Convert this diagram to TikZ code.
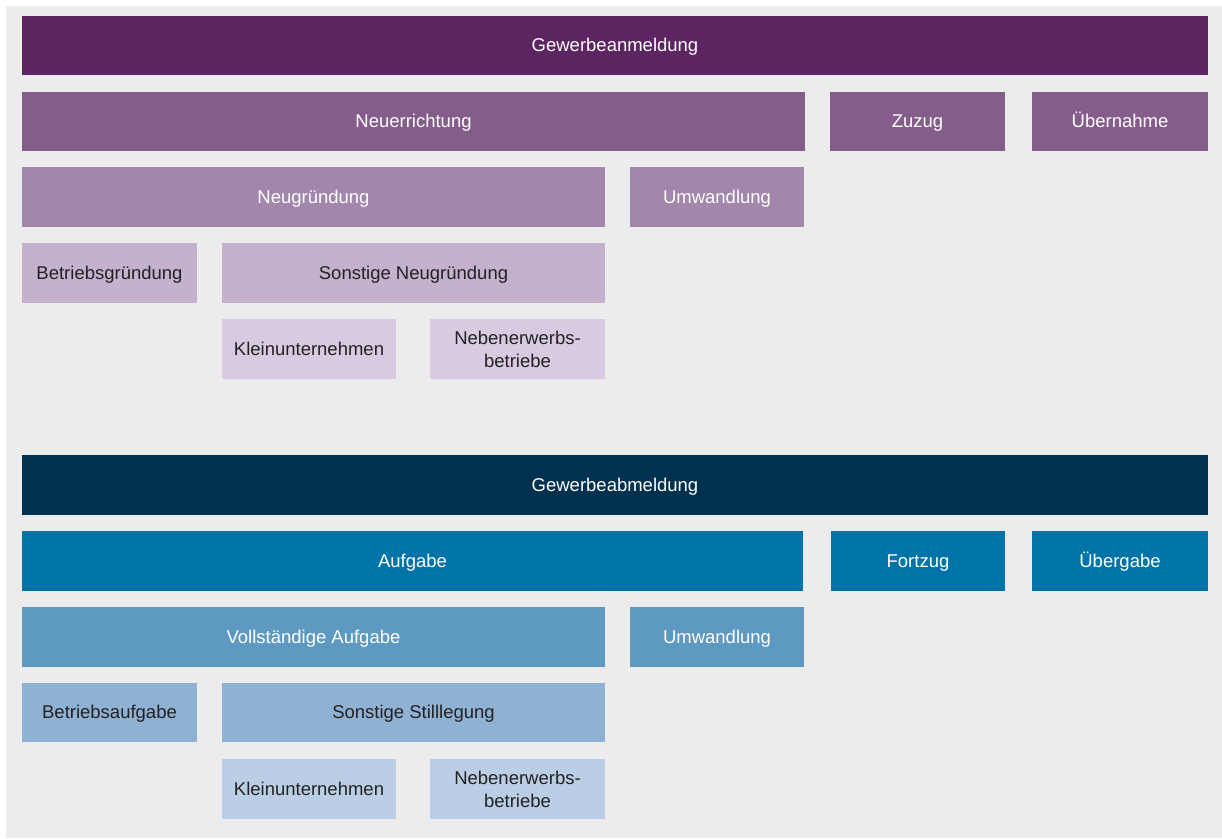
\documentclass[tikz,border=0pt]{standalone}
\usepackage{fontspec}
\setmainfont{Liberation Sans}
\definecolor{bg}{HTML}{ECECEC}
\definecolor{pA}{HTML}{5C2561}
\definecolor{pB}{HTML}{845D8A}
\definecolor{pC}{HTML}{A386AC}
\definecolor{pD}{HTML}{C4B1CE}
\definecolor{pE}{HTML}{D8CAE0}
\definecolor{bA}{HTML}{003250}
\definecolor{bB}{HTML}{0073A8}
\definecolor{bC}{HTML}{5E99C2}
\definecolor{bD}{HTML}{8FB1D3}
\definecolor{bE}{HTML}{BACEE5}
\definecolor{txtdark}{HTML}{222222}
\tikzset{
  box/.style={draw=none, inner sep=0pt, outer sep=0pt, align=center,
    font=\fontsize{18.5}{23}\selectfont},
  oneline/.style={text height=12.6pt, text depth=0pt},
  light/.style={box, oneline, text=white},
  dark/.style={box, oneline, text=txtdark},
  darktwo/.style={box, text=txtdark},
}
\newcommand{\bx}[8]{% style, name, fill, cx, cy, w, h, text
  \node[#1, fill=#3, minimum width=#6pt, minimum height=#7pt] (#2) at (#4,#5) {#8};}
\begin{document}
\begin{tikzpicture}[x=1pt,y=-1pt]
\useasboundingbox (0,0) rectangle (1222,838);
\fill[bg] (6,6) rectangle (1222,838);
% upper block
\bx{light}{anm}{pA}{615}{45.5}{1186}{59}{Gewerbeanmeldung}
\bx{light}{neu}{pB}{413.5}{121.5}{783}{59}{Neuerrichtung}
\bx{light}{zuzug}{pB}{917.5}{121.5}{175}{59}{Zuzug}
\bx{light}{uebern}{pB}{1120}{121.5}{176}{59}{Übernahme}
\bx{light}{neugr}{pC}{313.5}{197}{583}{60}{Neugründung}
\bx{light}{umwA}{pC}{717}{197}{174}{60}{Umwandlung}
\bx{dark}{betrgr}{pD}{109.5}{273}{175}{60}{Betriebsgründung}
\bx{dark}{sonstgr}{pD}{413.5}{273}{383}{60}{Sonstige Neugründung}
\bx{dark}{kleinA}{pE}{309}{349}{174}{60}{Kleinunternehmen}
\bx{darktwo}{nebenA}{pE}{517.5}{349}{175}{60}{Nebenerwerbs-\\betriebe}
% lower block
\bx{light}{abm}{bA}{615}{485}{1186}{60}{Gewerbeabmeldung}
\bx{light}{aufg}{bB}{412.5}{561}{781}{60}{Aufgabe}
\bx{light}{fortzug}{bB}{918}{561}{174}{60}{Fortzug}
\bx{light}{uebergabe}{bB}{1120}{561}{176}{60}{Übergabe}
\bx{light}{vollst}{bC}{313.5}{637}{583}{60}{Vollständige Aufgabe}
\bx{light}{umwB}{bC}{717}{637}{174}{60}{Umwandlung}
\bx{dark}{betrauf}{bD}{109.5}{712.5}{175}{59}{Betriebsaufgabe}
\bx{dark}{sonststill}{bD}{413.5}{712.5}{383}{59}{Sonstige Stilllegung}
\bx{dark}{kleinB}{bE}{309}{789}{174}{60}{Kleinunternehmen}
\bx{darktwo}{nebenB}{bE}{517.5}{789}{175}{60}{Nebenerwerbs-\\betriebe}
\end{tikzpicture}
\end{document}
